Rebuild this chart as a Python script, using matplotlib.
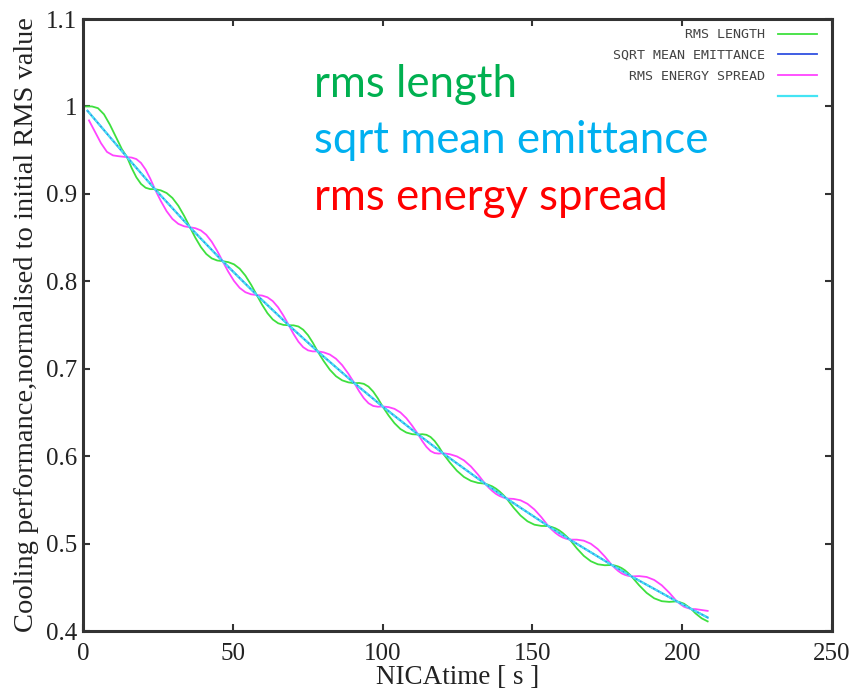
import matplotlib
matplotlib.use("Agg")
import matplotlib.pyplot as plt

# rms length (green)
length_t = [1, 3, 5, 7, 9, 11, 13,
            14.7, 16.25, 17.8, 19.35, 20.9, 22.45,
            24.0, 25.95, 27.9, 29.85, 31.8, 33.75,
            35.7, 37.52, 39.33, 41.15, 42.97, 44.78,
            46.6, 48.5, 50.4, 52.3, 54.2, 56.1,
            58.0, 59.78, 61.57, 63.35, 65.13, 66.92,
            68.7, 70.3, 71.9, 73.5, 75.1, 76.7,
            78.3, 80.35, 82.4, 84.45, 86.5, 88.55,
            90.6, 92.17, 93.73, 95.3, 96.87, 98.43,
            100.0, 101.98, 103.97, 105.95, 107.93, 109.92,
            111.9, 113.27, 114.63, 116.0, 117.37, 118.73,
            120.1, 122.45, 124.8, 127.15, 129.5, 131.85,
            134.2, 135.4, 136.6, 137.8, 139.0, 140.2,
            141.4, 143.72, 146.03, 148.35, 150.67, 152.98,
            155.3, 156.5, 157.7, 158.9, 160.1, 161.3,
            162.5, 164.83, 167.17, 169.5, 171.83, 174.17,
            176.5, 177.6, 178.7, 179.8, 180.9, 182.0,
            183.1, 185.62, 188.13, 190.65, 193.17, 195.68,
            198.2, 199.4, 200.6, 201.8, 203.0, 204.5, 206.5, 208.5]
length_v = [1.000, 1.000, 0.998, 0.991, 0.979, 0.965, 0.951,
            0.942, 0.9295, 0.9190, 0.9114, 0.9070, 0.9054,
            0.9054, 0.9040, 0.9010, 0.8953, 0.8865, 0.8749,
            0.8618, 0.8497, 0.8392, 0.8312, 0.8262, 0.8238,
            0.8230, 0.8219, 0.8194, 0.8144, 0.8065, 0.7961,
            0.7843, 0.7732, 0.7635, 0.7563, 0.7520, 0.7501,
            0.7497, 0.7496, 0.7483, 0.7446, 0.7384, 0.7298,
            0.7199, 0.7087, 0.6988, 0.6914, 0.6867, 0.6844,
            0.6834, 0.6837, 0.6827, 0.6795, 0.6738, 0.6660,
            0.6568, 0.6466, 0.6377, 0.6310, 0.6270, 0.6251,
            0.6247, 0.6251, 0.6244, 0.6219, 0.6173, 0.6109,
            0.6034, 0.5927, 0.5833, 0.5762, 0.5717, 0.5694,
            0.5685, 0.5671, 0.5654, 0.5629, 0.5597, 0.5558,
            0.5515, 0.5411, 0.5321, 0.5255, 0.5216, 0.5202,
            0.5200, 0.5189, 0.5174, 0.5152, 0.5122, 0.5085,
            0.5045, 0.4945, 0.4859, 0.4798, 0.4763, 0.4752,
            0.4755, 0.4748, 0.4737, 0.4719, 0.4694, 0.4661,
            0.4624, 0.4523, 0.4436, 0.4374, 0.4341, 0.4333,
            0.4339, 0.4327, 0.4312, 0.4283, 0.4252, 0.4200, 0.4145, 0.4110]

# rms energy spread (magenta)
spread_t = [2, 4, 6, 8, 10, 12] + length_t[7:]
spread_v = [0.984, 0.971, 0.958, 0.948, 0.944, 0.943,
            0.942, 0.9415, 0.9398, 0.9354, 0.9278, 0.9174,
            0.9054, 0.8920, 0.8802, 0.8713, 0.8657, 0.8629,
            0.8618, 0.8607, 0.8582, 0.8532, 0.8452, 0.8348,
            0.8230, 0.8109, 0.8004, 0.7924, 0.7875, 0.7851,
            0.7843, 0.7837, 0.7817, 0.7773, 0.7702, 0.7606,
            0.7497, 0.7396, 0.7309, 0.7246, 0.7210, 0.7198,
            0.7199, 0.7187, 0.7162, 0.7114, 0.7041, 0.6944,
            0.6834, 0.6742, 0.6663, 0.6605, 0.6574, 0.6565,
            0.6568, 0.6561, 0.6541, 0.6500, 0.6434, 0.6346,
            0.6247, 0.6171, 0.6106, 0.6059, 0.6035, 0.6029,
            0.6034, 0.6022, 0.5997, 0.5952, 0.5881, 0.5789,
            0.5685, 0.5641, 0.5602, 0.5569, 0.5545, 0.5528,
            0.5515, 0.5511, 0.5495, 0.5455, 0.5390, 0.5302,
            0.5200, 0.5159, 0.5122, 0.5092, 0.5070, 0.5055,
            0.5045, 0.5045, 0.5033, 0.4998, 0.4937, 0.4852,
            0.4755, 0.4718, 0.4685, 0.4659, 0.4642, 0.4631,
            0.4624, 0.4628, 0.4618, 0.4584, 0.4523, 0.4438,
            0.4339, 0.4307, 0.4278, 0.4263, 0.4252, 0.4250, 0.4240, 0.4230]

# sqrt mean emittance (blue + cyan, nearly on top of each other)
emit_t = [1.5, 14.7, 24.0, 35.7, 46.6, 58.0, 68.7, 78.3, 90.6, 100.0,
          111.9, 120.1, 134.2, 141.4, 155.3, 162.5, 176.5, 183.1, 198.2, 208.5]
emit_v = [0.995, 0.942, 0.9054, 0.8618, 0.8230, 0.7843, 0.7497, 0.7199, 0.6834, 0.6568,
          0.6247, 0.6034, 0.5685, 0.5515, 0.5200, 0.5045, 0.4755, 0.4624, 0.4339, 0.4154]

legend_labels = ["RMS LENGTH", "SQRT MEAN EMITTANCE", "RMS ENERGY SPREAD", " "]
notes = ["rms length", "sqrt mean emittance", "rms energy spread"]
note_colors = ["#00b050", "#00b0f0", "#ff0000"]

fig = plt.figure(figsize=(8.55, 6.96), dpi=100)
ax = fig.add_axes([83/855, 65/696, 749/855, 612/696])

l1, = ax.plot(length_t, length_v, color="#3ee03e", lw=1.3)
l2, = ax.plot(emit_t, emit_v, color="#3050e0", lw=1.3)
l3, = ax.plot(spread_t, spread_v, color="#ff44ff", lw=1.3)
l4, = ax.plot(emit_t, emit_v, color="#44e4f4", lw=1.6)
ax.plot(emit_t, emit_v, color="#3050e0", lw=0.8, ls=(0, (1.5, 3)), alpha=0.7)

ax.set_xlim(0, 250)
ax.set_ylim(0.4, 1.1)
ax.set_xticks([0, 50, 100, 150, 200, 250])
ax.set_yticks([0.4, 0.5, 0.6, 0.7, 0.8, 0.9, 1.0, 1.1])
ax.set_yticklabels(["0.4", "0.5", "0.6", "0.7", "0.8", "0.9", "1", "1.1"])

serif = "Liberation Serif"
for lab in ax.get_xticklabels() + ax.get_yticklabels():
    lab.set_family(serif)
    lab.set_fontsize(18)
    lab.set_color("#222222")
ax.tick_params(direction="in", length=5, width=1.5, top=True, right=True,
               color="#333333", pad=4)
ax.tick_params(axis="x", pad=9)
for sp in ax.spines.values():
    sp.set_linewidth(2.2)
    sp.set_color("#333333")

ax.set_xlabel("NICAtime [ s ]", family=serif, fontsize=19.5, color="#222222", labelpad=0)
ax.set_ylabel("Cooling performance,normalised to initial RMS value",
              family=serif, fontsize=20.5, color="#222222", labelpad=5)

leg = ax.legend([l1, l2, l3, l4], legend_labels, loc="upper right",
                bbox_to_anchor=(0.98, 0.985), markerfirst=False, frameon=False,
                prop={"family": "DejaVu Sans Mono", "size": 9.6},
                handlelength=2.9, handletextpad=1.0, labelspacing=0.58,
                borderaxespad=0, borderpad=0)
for t in leg.get_texts():
    t.set_color("#444444")

for i, (txt, col) in enumerate(zip(notes, note_colors)):
    ax.text(0.309, 0.8725 - i*0.0922, txt, transform=ax.transAxes, color=col,
            family="Lato", fontsize=31.5, va="baseline")

fig.savefig("out.png", dpi=100)
